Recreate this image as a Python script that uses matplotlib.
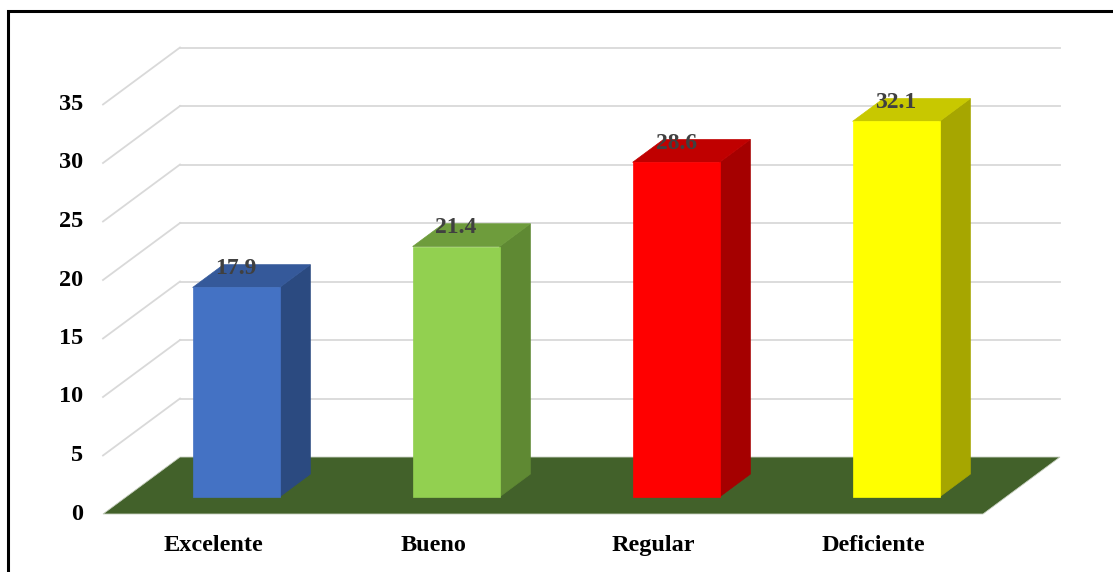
import matplotlib

matplotlib.use("Agg")
import matplotlib.pyplot as plt
from matplotlib.patches import Polygon, Rectangle

categories = ["Excelente", "Bueno", "Regular", "Deficiente"]
values = [17.9, 21.4, 28.6, 32.1]
front_colors = ["#4472C4", "#92D050", "#FF0000", "#FFFF00"]
top_colors = ["#35599A", "#6E9C3C", "#C00000", "#C8C800"]
side_colors = ["#2B4A80", "#5F8933", "#A50000", "#A6A600"]
y_ticks = [0, 5, 10, 15, 20, 25, 30, 35]

# oblique projection of the depth axis (data units)
DX = 0.35
DY = 4.87
BAR_W = 0.395
D0, D1 = 0.3, 0.7  # bar extent along the depth axis
FLOOR = "#42612A"
GRID = "#D9D9D9"
SERIF = "Liberation Serif"


def proj(x, y, d):
    return (x + d * DX, y + d * DY)


fig = plt.figure(figsize=(11.13, 5.72), dpi=100)
ax = fig.add_axes([103 / 1113, 58 / 572, 880 / 1113, 409.5 / 572])
ax.set_xlim(0, len(categories))
ax.set_ylim(0, max(y_ticks))
ax.axis("off")

# outer frame
fig.patches.append(Rectangle((8 / 1113, -0.1), 1.2, 1 - 11 / 572 + 0.1,
                             transform=fig.transFigure, fill=False,
                             edgecolor="black", linewidth=2.2))

n = len(categories)

# back wall and side wall gridlines
for v in y_ticks:
    if v == 0:
        continue
    x0, y0 = proj(0, v, 1)
    ax.plot([x0, n + DX], [y0, y0], color=GRID, lw=1.3, clip_on=False, zorder=1)
    ax.plot([0, x0], [v, y0], color=GRID, lw=1.3, clip_on=False, zorder=1)

# floor
floor = Polygon([proj(0, 0, 0), proj(0, 0, 1), proj(n, 0, 1), proj(n, 0, 0)],
                closed=True, facecolor=FLOOR, edgecolor="#C8D0C0", lw=0.6,
                clip_on=False, zorder=2)
ax.add_patch(floor)

for i, (cat, v) in enumerate(zip(categories, values)):
    xl = i + 0.5 - BAR_W / 2
    xr = i + 0.5 + BAR_W / 2
    front = [proj(xl, 0, D0), proj(xr, 0, D0), proj(xr, v, D0), proj(xl, v, D0)]
    side = [proj(xr, 0, D0), proj(xr, 0, D1), proj(xr, v, D1), proj(xr, v, D0)]
    top = [proj(xl, v, D0), proj(xr, v, D0), proj(xr, v, D1), proj(xl, v, D1)]
    for pts, c in ((side, side_colors[i]), (top, top_colors[i]), (front, front_colors[i])):
        ax.add_patch(Polygon(pts, closed=True, facecolor=c, edgecolor=c, lw=0.5,
                             clip_on=False, zorder=3))
    lx, _ = proj(i + 0.5, v, D0)
    ax.text(lx, v + 0.63 * DY, f"{v:.1f}", ha="center", va="center",
            fontsize=17, fontweight="bold", family=SERIF, color="#404040",
            zorder=5)
    ax.text(i + 0.5, -2.65, cat, ha="center", va="center", fontsize=17.5,
            fontweight="bold", family=SERIF, color="black")

for v in y_ticks:
    ax.text(-0.09, v, str(v), ha="right", va="center", fontsize=17.5,
            fontweight="bold", family=SERIF, color="black")

fig.savefig("out.png", dpi=100)
